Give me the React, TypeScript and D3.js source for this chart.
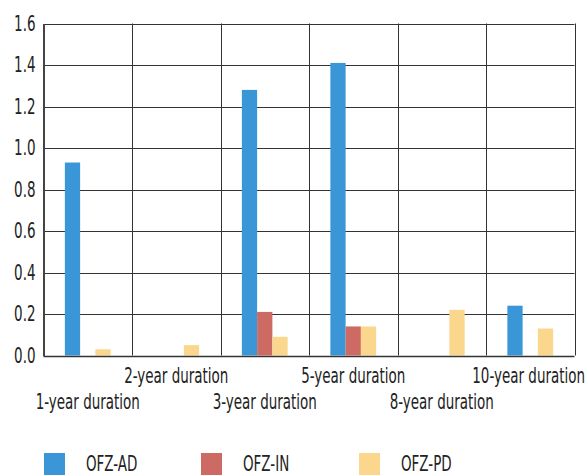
import { useEffect, useRef } from "react";
import { axisLeft, scaleBand, scaleLinear, select } from "d3";

const categories = [
  "1-year duration",
  "2-year duration",
  "3-year duration",
  "5-year duration",
  "8-year duration",
  "10-year duration",
];
const seriesNames = ["OFZ-AD", "OFZ-IN", "OFZ-PD"];
const ofzAD = [0.93, 0, 1.28, 1.41, 0, 0.24];
const ofzIN = [0, 0, 0.21, 0.14, 0, 0];
const ofzPD = [0.03, 0.05, 0.09, 0.14, 0.22, 0.13];
const yTicks = [0, 0.2, 0.4, 0.6, 0.8, 1.0, 1.2, 1.4, 1.6];
const colors = ["#3a96d6", "#ce6a64", "#fad78c"];

const W = 587;
const H = 475;
const FONT = "'DejaVu Sans Condensed', 'DejaVu Sans', sans-serif";
const FS = 20.5;
const SQUEEZE = 0.73; // narrow the condensed face to look like the original

export default function App() {
  const svgRef = useRef<SVGSVGElement>(null);

  useEffect(() => {
    const svg = select(svgRef.current);
    svg.selectAll("*").remove();

    const left = 43.5;
    const right = 574.5;
    const top = 23.5;
    const bottom = 355.5;

    const x = scaleBand().domain(categories).range([left, right]).padding(0);
    const xSub = scaleBand()
      .domain(seriesNames)
      .range([0, x.bandwidth()])
      .paddingInner(0)
      .paddingOuter(1.4);
    const y = scaleLinear().domain([0, 1.6]).range([bottom, top]);

    const values = [ofzAD, ofzIN, ofzPD];

    // horizontal grid
    svg
      .append("g")
      .selectAll("line")
      .data(yTicks.slice(1))
      .join("line")
      .attr("x1", left)
      .attr("x2", right)
      .attr("y1", (d) => Math.round(y(d)) + 0.5)
      .attr("y2", (d) => Math.round(y(d)) + 0.5)
      .attr("stroke", "#333")
      .attr("stroke-width", 1);

    // vertical separators
    svg
      .append("g")
      .selectAll("line")
      .data(categories)
      .join("line")
      .attr("x1", (d) => Math.round(x(d)! + x.bandwidth()) + 0.5)
      .attr("x2", (d) => Math.round(x(d)! + x.bandwidth()) + 0.5)
      .attr("y1", top)
      .attr("y2", bottom)
      .attr("stroke", "#333")
      .attr("stroke-width", 1);

    // bars
    seriesNames.forEach((s, si) => {
      svg
        .append("g")
        .selectAll("rect")
        .data(categories)
        .join("rect")
        .attr("x", (d) => x(d)! + xSub(s)!)
        .attr("width", xSub.bandwidth())
        .attr("y", (_, i) => y(values[si][i]))
        .attr("height", (_, i) => bottom - y(values[si][i]))
        .attr("fill", colors[si]);
    });

    // bottom axis line
    svg
      .append("line")
      .attr("x1", left)
      .attr("x2", right)
      .attr("y1", Math.round(bottom) + 0.5)
      .attr("y2", Math.round(bottom) + 0.5)
      .attr("stroke", "#333")
      .attr("stroke-width", 1.5);

    // y axis
    const yAxis = axisLeft(y)
      .tickValues(yTicks)
      .tickFormat((d) => (+d).toFixed(1))
      .tickSize(0)
      .tickPadding(8);
    const ga = svg
      .append("g")
      .attr("transform", `translate(${left},0)`)
      //@ts-ignore
      .call(yAxis);
    ga.select(".domain").attr("stroke", "#444").attr("stroke-width", 2);
    ga.selectAll("text")
      .attr("font-family", FONT)
      .attr("font-size", FS)
      .attr("fill", "#222");

    // x labels, staggered
    svg
      .append("g")
      .attr("class", "xlabels")
      .selectAll("text")
      .data(categories)
      .join("text")
      .attr("x", (d) => x(d)! + x.bandwidth() / 2)
      .attr("y", (_, i) => (i % 2 === 1 ? 383 : 409))
      .attr("text-anchor", "middle")
      .attr("font-family", FONT)
      .attr("font-size", FS)
      .attr("fill", "#222")
      .text((d) => d);

    // legend
    const legendX = [44, 201, 359];
    const lg = svg
      .append("g")
      .selectAll("g")
      .data(seriesNames)
      .join("g")
      .attr("transform", (_, i) => `translate(${legendX[i]},453)`);
    lg.append("rect")
      .attr("width", 21)
      .attr("height", 22)
      .attr("fill", (_, i) => colors[i]);
    lg.append("text")
      .attr("x", 42)
      .attr("y", 17.5)
      .attr("font-family", FONT)
      .attr("font-size", FS)
      .attr("fill", "#222")
      .text((d) => d);

    // squeeze all texts horizontally
    svg.selectAll<SVGTextElement, unknown>("text").each(function () {
      const w = this.getComputedTextLength();
      select(this)
        .attr("textLength", w * SQUEEZE)
        .attr("lengthAdjust", "spacingAndGlyphs");
    });

    // keep the last label inside the page
    svg.selectAll<SVGTextElement, unknown>(".xlabels text").each(function () {
      const half = +this.getAttribute("textLength")! / 2;
      const cx = +this.getAttribute("x")!;
      if (cx + half > W - 2) select(this).attr("x", W - 2 - half);
    });
  }, []);

  return (
    <svg
      ref={svgRef}
      width={W}
      height={H}
      style={{ position: "absolute", left: 0, top: 0, background: "#fff" }}
    />
  );
}
